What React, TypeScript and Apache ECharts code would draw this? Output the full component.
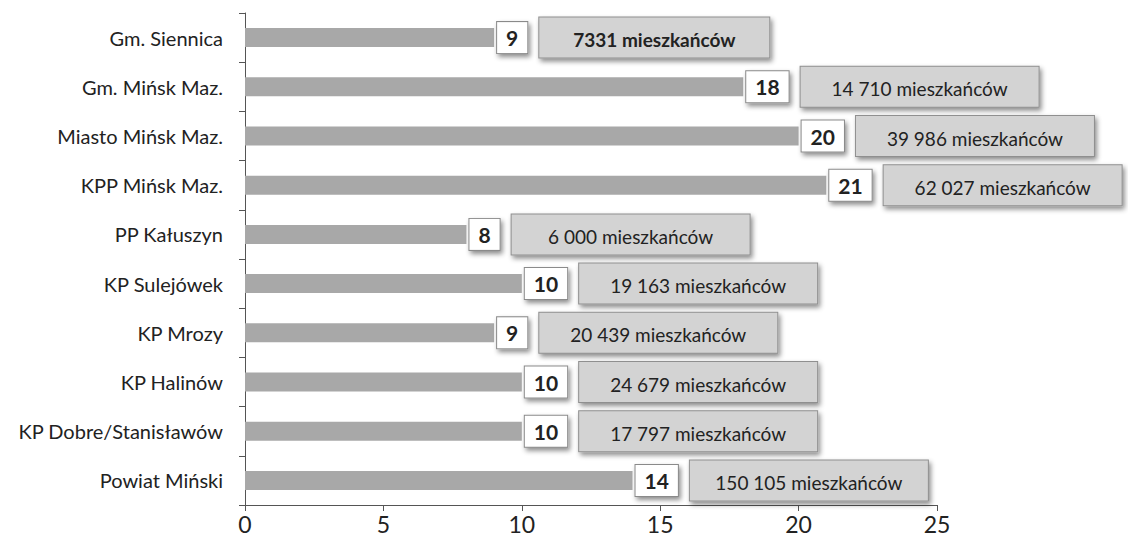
import React, { useEffect, useRef } from "react";
import * as echarts from "echarts";

const categories = [
  "Gm. Siennica",
  "Gm. Mińsk Maz.",
  "Miasto Mińsk Maz.",
  "KPP Mińsk Maz.",
  "PP Kałuszyn",
  "KP Sulejówek",
  "KP Mrozy",
  "KP Halinów",
  "KP Dobre/Stanisławów",
  "Powiat Miński",
];
const values = [9, 18, 20, 21, 8, 10, 9, 10, 10, 14];
const populations = [
  "7331 mieszkańców",
  "14 710 mieszkańców",
  "39 986 mieszkańców",
  "62 027 mieszkańców",
  "6 000 mieszkańców",
  "19 163 mieszkańców",
  "20 439 mieszkańców",
  "24 679 mieszkańców",
  "17 797 mieszkańców",
  "150 105 mieszkańców",
];
const xTicks = [0, 5, 10, 15, 20, 25];

const FONT = "Lato, 'Open Sans', sans-serif";

export default function App() {
  const ref = useRef<HTMLDivElement>(null);
  useEffect(() => {
    if (!ref.current) return;
    const chart = echarts.init(ref.current, undefined, { renderer: "svg" });
    const shadow = {
      shadowColor: "rgba(0,0,0,0.45)",
      shadowBlur: 5,
      shadowOffsetX: 2,
      shadowOffsetY: 3,
    };
    const popStyle = {
      fontFamily: FONT,
      fontSize: 19,
      color: "#222",
      backgroundColor: "#d3d3d3",
      borderColor: "#8f8f8f",
      borderWidth: 1,
      width: 238,
      height: 36,
      lineHeight: 36,
      padding: [4, 0, 0, 0],
      align: "center",
      ...shadow,
    };
    chart.setOption({
      animation: false,
      backgroundColor: "#ffffff",
      grid: { left: 245, right: 191, top: 13, bottom: 45, containLabel: false },
      xAxis: {
        type: "value",
        min: xTicks[0],
        max: xTicks[xTicks.length - 1],
        interval: 5,
        axisLine: { show: true, lineStyle: { color: "#555", width: 1 } },
        axisTick: { show: true, length: 6, lineStyle: { color: "#555" } },
        splitLine: { show: false },
        axisLabel: {
          color: "#222",
          fontSize: 23,
          fontFamily: FONT,
          margin: 7,
        },
      },
      yAxis: {
        type: "category",
        data: categories,
        inverse: true,
        axisLine: { show: true, lineStyle: { color: "#555", width: 1 } },
        axisTick: { show: true, length: 6, lineStyle: { color: "#555" } },
        axisLabel: {
          color: "#222",
          fontSize: 20,
          fontFamily: FONT,
          margin: 22,
        },
      },
      series: [
        {
          type: "bar",
          data: values,
          barWidth: 19,
          itemStyle: { color: "#a8a8a8" },
          label: {
            show: true,
            position: "right",
            distance: 3,
            formatter: (p: any) =>
              `{v|${p.value}}{g|}{${p.dataIndex === 0 ? "pb" : "p"}|${populations[p.dataIndex]}}`,
            rich: {
              v: {
                fontFamily: FONT,
                fontSize: 21,
                fontWeight: "bold",
                color: "#222",
                backgroundColor: "#ffffff",
                borderColor: "#8a8a8a",
                borderWidth: 1,
                padding: [5, 9],
                lineHeight: 24,
                ...shadow,
              },
              g: { width: 12 },
              p: popStyle,
              pb: { ...popStyle, fontWeight: "bold", width: 230 },
            },
          },
        },
      ],
    });
    return () => chart.dispose();
  }, []);
  return (
    <div
      ref={ref}
      style={{ position: "fixed", left: 0, top: 0, width: 1128, height: 550 }}
    />
  );
}
